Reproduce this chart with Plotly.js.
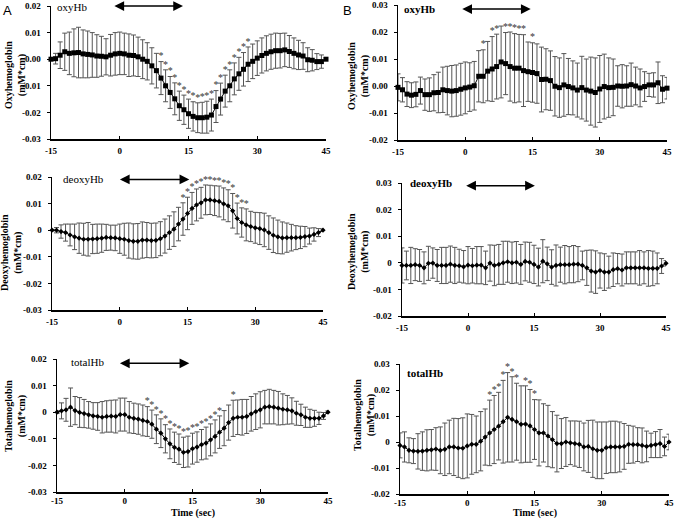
<!DOCTYPE html>
<html><head><meta charset="utf-8">
<script src="https://cdn.plot.ly/plotly-3.0.1.min.js"></script>
<style>html,body{margin:0;padding:0;background:#fff}#chart{width:676px;height:520px}</style>
</head><body><div id="chart"></div>
<script>
// ---------------- DATA ----------------
const timeSec = [-15,-14,-13,-12,-11,-10,-9,-8,-7,-6,-5,-4,-3,-2,-1,0,1,2,3,4,5,6,7,8,9,10,11,12,13,14,15,16,17,18,19,20,21,22,23,24,25,26,27,28,29,30,31,32,33,34,35,36,37,38,39,40,41,42,43,44,45];
const xTickVals = [-15,0,15,30,45];
const xTickText = ['-15','0','15','30','45'];

// Panel A
const oxyA = [0,0.0002,0.0015,0.0028,0.0022,0.0024,0.0025,0.0020,0.0018,0.0016,
  0.0012,0.0011,0.0009,0.0015,0.0020,0.0022,0.0020,0.0015,0.0014,0.0009,
  0,-0.0008,-0.0025,-0.0043,-0.0071,-0.0100,-0.0125,-0.0149,-0.0175,-0.0190,
  -0.0205,-0.0215,-0.0220,-0.0220,-0.0218,-0.0210,-0.0178,-0.0150,-0.0120,-0.0100,
  -0.0074,-0.0055,-0.0038,-0.0019,-0.0008,0.0004,0.0014,0.0022,0.0028,0.0032,
  0.0032,0.0035,0.0029,0.0022,0.0016,0.0012,-0.0002,-0.0004,-0.0009,-0.0009,
  0];
const oxyA_sd = [0.0005,0.002,0.005,0.007,0.008,0.009,0.0095,0.009,0.0088,0.0084,
  0.008,0.0075,0.0068,0.0078,0.008,0.008,0.0078,0.008,0.0077,0.0074,
  0.0073,0.007,0.0068,0.0065,0.0062,0.006,0.006,0.006,0.0055,0.0055,
  0.0055,0.0055,0.0056,0.0058,0.006,0.006,0.006,0.006,0.006,0.006,
  0.006,0.0062,0.0063,0.0065,0.0065,0.0065,0.0066,0.0066,0.0066,0.0066,
  0.0065,0.0063,0.006,0.0058,0.0055,0.005,0.0045,0.004,0.003,0.0025,
  0.0005];
const sigOxyA = [9,10,11,12,13,14,15,16,17,18,19,20,21,22,23,24,25,26,27,28];

const deoxyA = [0,0,-0.0005,-0.0009,-0.0018,-0.0025,-0.003,-0.0034,-0.0034,-0.0033,
  -0.0032,-0.003,-0.0027,-0.0028,-0.0029,-0.0032,-0.0034,-0.0039,-0.0042,-0.0042,
  -0.0037,-0.0037,-0.0039,-0.0038,-0.0032,-0.0022,-0.0009,0.0004,0.0023,0.0042,
  0.0063,0.0082,0.0095,0.0103,0.0114,0.0114,0.0111,0.0108,0.0099,0.0092,
  0.0073,0.0044,0.0029,0.002,0.0014,0.0009,0.0006,0.0001,-0.0009,-0.0019,
  -0.0025,-0.0029,-0.0028,-0.0028,-0.0028,-0.0027,-0.0024,-0.0022,-0.0016,-0.0009,
  0];
const deoxyA_sd = [0.0003,0.001,0.0025,0.0032,0.0041,0.0048,0.0057,0.006,0.0063,0.0055,
  0.0055,0.0053,0.0049,0.0047,0.0048,0.0055,0.006,0.0066,0.0066,0.0067,
  0.0068,0.0066,0.0065,0.0065,0.0064,0.0064,0.0063,0.0065,0.0063,0.0061,
  0.0061,0.006,0.006,0.0058,0.0056,0.0055,0.0056,0.0058,0.006,0.006,
  0.0065,0.0058,0.0055,0.006,0.0057,0.0058,0.006,0.0063,0.0063,0.0065,
  0.0063,0.006,0.0055,0.005,0.0045,0.0042,0.0038,0.003,0.0025,0.0015,
  0.0005];
const sigDeoxyA = [14,15,16,17,18,19,20,21,22,23,24,25,26,27,28];

const totalA = [0,0.0005,0.0009,0.0019,0.0006,-0.0001,-0.0005,-0.001,-0.0014,-0.0016,
  -0.0019,-0.0016,-0.0015,-0.0016,-0.0009,-0.0009,-0.0019,-0.0023,-0.0026,-0.0031,
  -0.0035,-0.0045,-0.0064,-0.0079,-0.01,-0.0119,-0.0132,-0.0139,-0.0151,-0.0148,
  -0.0137,-0.0131,-0.0122,-0.0116,-0.0104,-0.0091,-0.0075,-0.006,-0.0039,-0.0023,
  -0.0019,-0.0019,-0.0016,-0.0006,0.0002,0.0009,0.0019,0.0021,0.0019,0.0015,
  0.0011,0.0009,0.0005,-0.0004,-0.001,-0.0019,-0.0023,-0.0023,-0.0023,-0.0014,
  0];
const totalA_sd = [0.0005,0.003,0.0043,0.0072,0.0053,0.0056,0.0053,0.005,0.005,0.0052,
  0.0059,0.0059,0.006,0.0062,0.0062,0.0062,0.0059,0.0057,0.0057,0.0058,
  0.0056,0.0053,0.0054,0.0054,0.0053,0.0056,0.0057,0.0057,0.0057,0.0058,
  0.0058,0.0057,0.0057,0.006,0.006,0.0062,0.0061,0.0066,0.0066,0.0068,
  0.0065,0.0067,0.0064,0.0065,0.0067,0.0068,0.0063,0.0065,0.0063,0.0063,
  0.0058,0.0054,0.0049,0.0045,0.004,0.0038,0.0034,0.003,0.0023,0.0013,
  0.0005];
const sigTotalA = [5,6,7,8,9,10,11,12,13,14,15,16,17,18,19,20,21,24];

// Panel B
const oxyB = [-0.0005,-0.0014,-0.003,-0.0034,-0.0031,-0.0017,-0.0032,-0.0032,-0.0025,-0.0024,
  -0.0014,-0.0017,-0.0019,-0.0017,-0.0012,-0.0007,-0.0004,0.0001,0.0036,0.0036,
  0.0055,0.0063,0.0072,0.0089,0.0083,0.0072,0.0066,0.0066,0.0057,0.0053,
  0.005,0.0046,0.0024,0.0025,0.002,-0.0001,-0.0006,0.0004,-0.0002,-0.0007,
  -0.0015,-0.0006,-0.0015,-0.0019,-0.0024,-0.0011,-0.0002,-0.0006,-0.0005,0,
  -0.0001,0,0.0005,0,-0.0007,-0.0002,0.0004,0.0004,0.0012,-0.0012,
  -0.0008];
const oxyB_sd = [0.005,0.0045,0.0046,0.0046,0.0046,0.005,0.0058,0.0062,0.0067,0.0075,
  0.0084,0.009,0.0095,0.0095,0.0096,0.0096,0.009,0.009,0.0095,0.0098,
  0.011,0.012,0.012,0.0133,0.0115,0.0128,0.0128,0.0125,0.0133,0.011,
  0.011,0.011,0.012,0.0113,0.011,0.011,0.011,0.0116,0.0104,0.01,
  0.01,0.0116,0.0115,0.0126,0.0128,0.0124,0.012,0.011,0.0105,0.0075,
  0.008,0.0075,0.008,0.007,0.007,0.0055,0.0043,0.0045,0.0077,0.005,
  0.004];
const sigOxyB = [4,6,7,9,10,11,12,13,15];

const deoxyB = [-0.001,-0.001,-0.001,-0.0007,-0.001,-0.0019,-0.0002,-0.0001,-0.001,-0.001,
  -0.001,-0.0005,-0.001,-0.0011,-0.0015,-0.0009,-0.0011,-0.0009,-0.0009,-0.0019,
  -0.0001,-0.001,-0.0006,0,0.0004,0,0.0002,-0.0006,0.0005,0.0002,
  -0.0006,-0.0016,0.0006,-0.0004,-0.0016,-0.001,-0.0007,-0.0007,-0.0007,-0.0005,
  -0.0005,-0.001,-0.0019,-0.0031,-0.0035,-0.0029,-0.0035,-0.0035,-0.0026,-0.0022,
  -0.0027,-0.0019,-0.0019,-0.0019,-0.0019,-0.0019,-0.0021,-0.0021,-0.0021,-0.0012,
  -0.0002];
const deoxyB_sd = [0.0066,0.0054,0.0068,0.006,0.006,0.006,0.0064,0.0057,0.006,0.0068,
  0.0068,0.0068,0.0068,0.0062,0.0061,0.007,0.0065,0.007,0.007,0.0063,
  0.0068,0.0076,0.0075,0.0081,0.0077,0.0078,0.0078,0.0075,0.0073,0.0075,
  0.0072,0.0071,0.0081,0.0063,0.0065,0.0077,0.0066,0.0072,0.0068,0.007,
  0.0066,0.0054,0.0066,0.0079,0.008,0.0066,0.0069,0.006,0.0063,0.0057,
  0.006,0.006,0.006,0.006,0.0065,0.006,0.0067,0.0065,0.0058,0.0028,
  0.001];
const sigDeoxyB = [];

const totalB = [-0.0013,-0.0019,-0.0032,-0.0035,-0.0036,-0.0035,-0.0032,-0.003,-0.0027,-0.0032,
  -0.0028,-0.0019,-0.0019,-0.0023,-0.0024,-0.0015,-0.0009,-0.0009,0.0003,0.0019,
  0.0035,0.0048,0.0061,0.0078,0.0095,0.0087,0.0078,0.0068,0.0069,0.0062,
  0.0048,0.0035,0.0035,0.0023,0.0009,-0.0006,-0.0006,0,-0.0003,-0.0006,
  -0.0009,-0.0019,-0.0017,-0.0026,-0.0032,-0.0032,-0.0022,-0.0019,-0.0019,-0.0019,
  -0.0017,-0.0009,-0.001,-0.001,-0.0013,-0.0017,-0.0013,-0.001,-0.0006,-0.0017,
  0];
const totalB_sd = [0.0048,0.0058,0.0048,0.0048,0.0068,0.0074,0.0079,0.0078,0.0082,0.009,
  0.0101,0.0103,0.011,0.0113,0.0117,0.0123,0.0115,0.0109,0.0114,0.0108,
  0.0126,0.0131,0.013,0.0159,0.0172,0.0164,0.0148,0.0148,0.0147,0.014,
  0.0115,0.0127,0.0112,0.0118,0.0108,0.0109,0.0096,0.0094,0.0084,0.0087,
  0.0089,0.0092,0.01,0.011,0.0109,0.0109,0.0099,0.0099,0.0099,0.0096,
  0.0088,0.0073,0.0071,0.0065,0.0067,0.0059,0.0047,0.005,0.0054,0.0036,
  0.003];
const sigTotalB = [5,6,7,8,9,10,11,13,14,15];

const yTicksA = [-0.03,-0.02,-0.01,0,0.01,0.02];
const yTicksB = [-0.02,-0.01,0,0.01,0.02,0.03];
const yTextA1 = ['-0.03','-0.02','-0.01','0.00','0.01','0.02'];
const yTextA = ['-0.03','-0.02','-0.01','0','0.01','0.02'];
const yTextB1 = ['-0.02','-0.01','0.00','0.01','0.02','0.03'];
const yTextB = ['-0.02','-0.01','0','0.01','0.02','0.03'];

// ---------------- LAYOUT / DRAW ----------------
const W = 676, H = 520;
const SERIF = 'Liberation Serif, Times New Roman, serif';
const panels = [
  {y:oxyA,   sd:oxyA_sd,   sig:sigOxyA,   box:[51,326,6,139],   ticks:yTicksA, ttext:yTextA1, sym:'square', ms:5, bottom:false,
   name:'oxyHb', nameAt:[72,7], nameBold:false, arrow:[-1.5,13.8,0.0200], ytitle:'Oxyhemoglobin', ytAt:[16,75]},
  {y:oxyB,   sd:oxyB_sd,   sig:sigOxyB,   box:[398,667,5,140],  ticks:yTicksB, ttext:yTextB1, sym:'square', ms:5, bottom:false,
   name:'oxyHb', nameAt:[420,9], nameBold:true, arrow:[-1.0,14.6,0.0285], ytitle:'Oxyhemoglobin', ytAt:[358,76]},
  {y:deoxyA, sd:deoxyA_sd, sig:sigDeoxyA, box:[52,323,177,310], ticks:yTicksA, ttext:yTextA, sym:'diamond', ms:4, bottom:false,
   name:'deoxyHb', nameAt:[83,179], nameBold:false, arrow:[-0.3,15.4,0.0191], ytitle:'Deoxyhemoglobin', ytAt:[11,253]},
  {y:deoxyB, sd:deoxyB_sd, sig:sigDeoxyB, box:[402,666,183,316], ticks:yTicksB, ttext:yTextB, sym:'diamond', ms:4, bottom:false,
   name:'deoxyHb', nameAt:[431,183], nameBold:true, arrow:[-0.75,15.2,0.0290], ytitle:'Deoxyhemoglobin', ytAt:[358,252]},
  {y:totalA, sd:totalA_sd, sig:sigTotalA, box:[57,328,359,492], ticks:yTicksA, ttext:yTextA, sym:'diamond', ms:4, bottom:true,
   name:'totalHb', nameAt:[87,362], nameBold:false, arrow:[-1.4,14.3,0.0184], ytitle:'Totalhemoglobin', ytAt:[15,416]},
  {y:totalB, sd:totalB_sd, sig:sigTotalB, box:[400,669,364,494], ticks:yTicksB, ttext:yTextB, sym:'diamond', ms:4, bottom:true,
   name:'totalHb', nameAt:[425,373], nameBold:true, arrow:[-1.46,14.15,0.0303], ytitle:'Totalhemoglobin', ytAt:[364,415]}
];

const traces = [];
const layout = {
  width: W, height: H, margin: {l:0,r:0,t:0,b:0},
  paper_bgcolor: '#fff', plot_bgcolor: '#fff', showlegend: false,
  annotations: [], font: {family: SERIF, color: '#000'}
};

panels.forEach((p, i) => {
  const n = i === 0 ? '' : String(i + 1);
  const xa = 'x' + n, ya = 'y' + n;
  const yr = [p.ticks[0], p.ticks[p.ticks.length - 1]];
  traces.push({
    type: 'scatter', mode: 'lines+markers', x: timeSec, y: p.y, xaxis: xa, yaxis: ya,
    line: {color: '#000', width: 1},
    marker: {symbol: p.sym, size: p.ms, color: '#000'},
    error_y: {type: 'data', array: p.sd, visible: true, color: '#555', thickness: 1, width: 2.5},
    cliponaxis: false, hoverinfo: 'skip'
  });
  if (p.sig.length) {
    const idx = p.sig.map(t => timeSec.indexOf(t));
    traces.push({
      type: 'scatter', mode: 'text', xaxis: xa, yaxis: ya,
      x: idx.map(k => timeSec[k]),
      y: idx.map(k => p.y[k] + p.sd[k] + 0.0018),
      text: idx.map(() => '*'),
      textfont: {family: SERIF, size: 10, color: '#333'},
      textposition: 'middle center', cliponaxis: false, hoverinfo: 'skip'
    });
  }
  const [x0, x1, y0, y1] = p.box;
  const common = {
    showgrid: false, zeroline: false, showline: true, linecolor: '#000', linewidth: 1.5,
    tickcolor: '#000', tickwidth: 1,
    tickfont: {family: SERIF, size: 9, color: '#000', weight: 'bold'}, fixedrange: true
  };
  layout['xaxis' + n] = Object.assign({}, common, {
    domain: [x0 / W, x1 / W], range: [-15, 45], anchor: ya,
    ticks: 'inside', ticklen: 3,
    tickmode: 'array', tickvals: xTickVals, ticktext: xTickText, ticklabelstandoff: p.bottom ? 0 : 3
  });
  layout['yaxis' + n] = Object.assign({}, common, {
    domain: [1 - y1 / H, 1 - y0 / H], range: yr, anchor: xa,
    ticks: 'outside', ticklen: 3,
    tickmode: 'array', tickvals: p.ticks, ticktext: p.ttext, ticklabelstandoff: 4
  });
  // stimulus double arrow
  layout.annotations.push({
    xref: xa, yref: ya, axref: xa, ayref: ya,
    x: p.arrow[1], y: p.arrow[2], ax: p.arrow[0], ay: p.arrow[2],
    text: '', showarrow: true, arrowside: 'end+start', arrowhead: 2, startarrowhead: 2,
    arrowsize: 1.3, startarrowsize: 1.3, arrowwidth: 1.5, arrowcolor: '#000', standoff: 0, startstandoff: 0
  });
  // panel name
  layout.annotations.push({
    xref: 'paper', yref: 'paper', x: p.nameAt[0] / W, y: 1 - p.nameAt[1] / H,
    xanchor: 'center', yanchor: 'middle', showarrow: false, text: p.name,
    font: {family: SERIF, size: 11, color: '#000', weight: p.nameBold ? 'bold' : 'normal'}
  });
  // y title
  layout.annotations.push({
    xref: 'paper', yref: 'paper', x: p.ytAt[0] / W, y: 1 - p.ytAt[1] / H,
    xanchor: 'center', yanchor: 'middle', showarrow: false, textangle: -90,
    text: p.ytitle + '<br>(mM*cm)',
    font: {family: SERIF, size: 10, color: '#000', weight: 'bold'}
  });
});

// figure letters and x titles
[['A', 7, 10], ['B', 347, 10]].forEach(([t, x, y]) => layout.annotations.push({
  xref: 'paper', yref: 'paper', x: x / W, y: 1 - y / H, xanchor: 'center', yanchor: 'middle',
  showarrow: false, text: t, font: {family: 'Liberation Sans, Arial, sans-serif', size: 13, color: '#000'}
}));
[[193, 513], [535, 513]].forEach(([x, y]) => layout.annotations.push({
  xref: 'paper', yref: 'paper', x: x / W, y: 1 - y / H, xanchor: 'center', yanchor: 'middle',
  showarrow: false, text: 'Time (sec)', font: {family: SERIF, size: 10, color: '#000', weight: 'bold'}
}));

Plotly.newPlot('chart', traces, layout, {staticPlot: true, displayModeBar: false});
</script>
</body></html>
